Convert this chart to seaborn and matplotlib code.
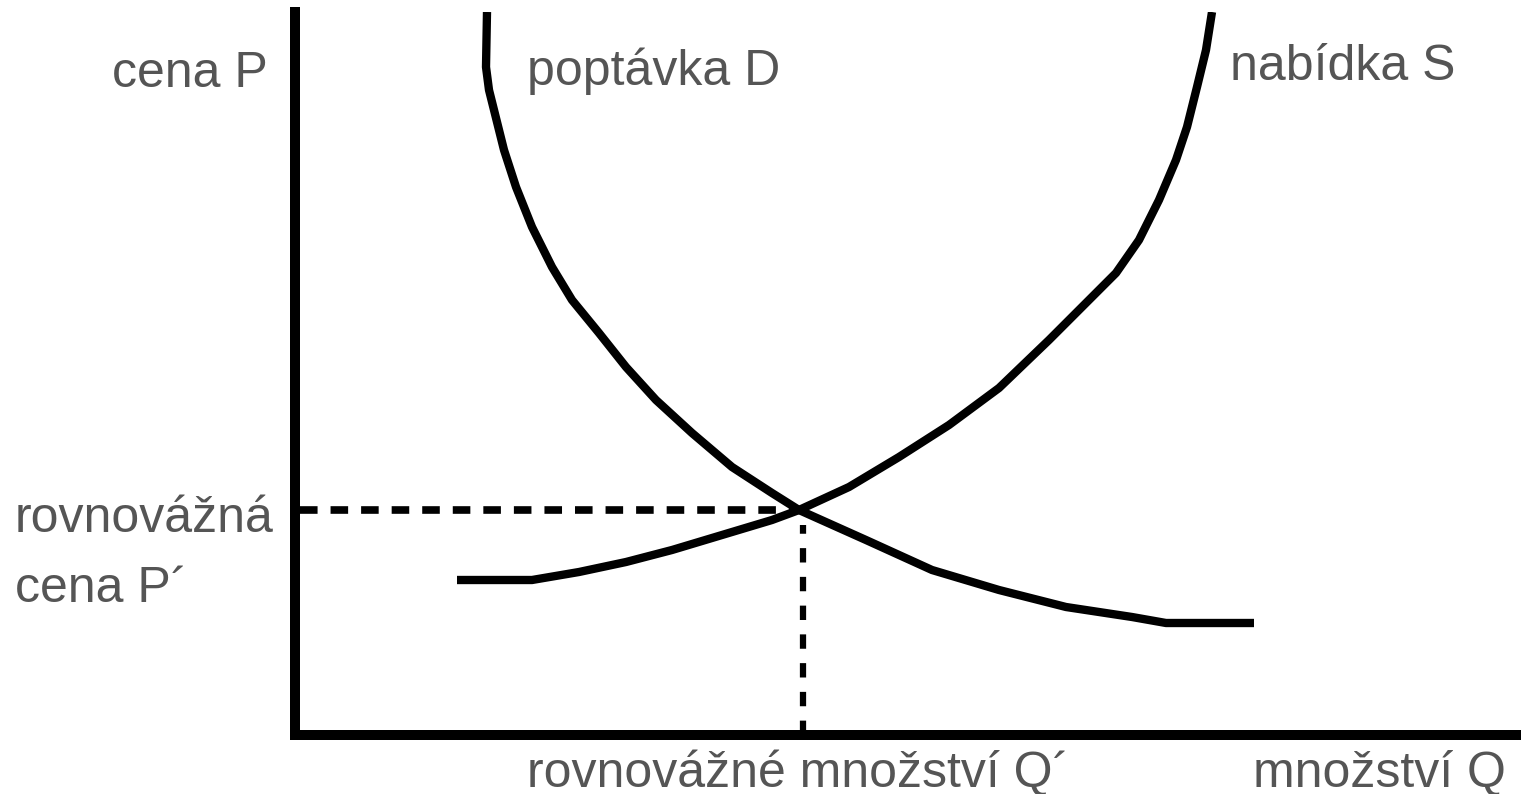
import pandas as pd
import seaborn as sns
import matplotlib.pyplot as plt

# =========================
# Data
# =========================
# demand curve D: quantity Q, price P
demand_q = [19.2, 19.1, 19.4, 19.9, 20.9, 22.1, 23.7, 25.7, 27.7, 30.4, 33.1,
            36.1, 39.7, 43.7, 47.7, 50.4, 57.1, 63.7, 70.4, 77.1, 83.7, 87.1, 95.9]
demand_p = [72.3, 66.8, 64.5, 62.5, 58.5, 54.8, 50.8, 46.8, 43.5, 40.2, 36.8,
            33.5, 30.2, 26.8, 24.2, 22.5, 19.5, 16.5, 14.5, 12.8, 11.8, 11.2, 11.2]

# supply curve S
supply_q = [16.2, 23.7, 28.4, 33.1, 37.7, 42.7, 47.7, 50.4, 55.4, 60.4, 65.4,
            70.4, 75.4, 78.9, 82.1, 84.4, 86.4, 88.1, 89.2, 90.2, 91.1, 91.7]
supply_p = [15.5, 15.5, 16.3, 17.3, 18.5, 20.0, 21.5, 22.5, 24.8, 27.8, 31.0,
            34.7, 39.5, 43.0, 46.2, 49.5, 53.5, 57.5, 60.8, 64.8, 68.5, 72.3]

# equilibrium point
eq_q = 50.8
eq_p = 22.5

q_max = 122.6
p_max = 72.3

demand = pd.DataFrame({"Q": demand_q, "P": demand_p})
supply = pd.DataFrame({"Q": supply_q, "P": supply_p})

# =========================
# Figure
# =========================
sns.set_theme(style="white")
plt.rcParams['font.family'] = ['Liberation Sans', 'DejaVu Sans']

fig = plt.figure(figsize=(15.21, 7.94), dpi=100)
ax = fig.add_axes([295 / 1521, 59 / 794, 1 - 295 / 1521, 723 / 794])

for curve in [demand, supply]:
    sns.lineplot(data=curve, x="Q", y="P", sort=False, estimator=None,
                 color="black", linewidth=6, ax=ax,
                 solid_capstyle="butt", solid_joinstyle="round")

# dashed guides to the equilibrium
ax.hlines(eq_p, 0.5, eq_q - 1.2, color="black", linewidth=5.5,
          linestyles=(0, (2.3, 1.7)))
ax.vlines(eq_q, 0, eq_p - 1.5, color="black", linewidth=4.5,
          linestyles=(0, (2.3, 2.3)))

ax.set_xlim(0, q_max)
ax.set_ylim(0, p_max)
ax.set_xticks([])
ax.set_yticks([])
ax.set_xlabel("")
ax.set_ylabel("")
for side in ["top", "right"]:
    ax.spines[side].set_visible(False)
for side in ["left", "bottom"]:
    ax.spines[side].set_color("black")
    ax.spines[side].set_linewidth(7.2)

# =========================
# Labels
# =========================
txt = dict(fontsize=36, color="#555555", va="baseline")
ax.text(-2.7, 64.8, "cena P", ha="right", **txt)
ax.text(23.2, 65.0, "poptávka D", ha="left", **txt)
ax.text(93.5, 65.5, "nabídka S", ha="left", **txt)
ax.text(-28.0, 20.3, "rovnovážná", ha="left", **txt)
ax.text(-28.0, 13.3, "cena P´", ha="left", **txt)
ax.text(23.2, -5.2, "rovnovážné množství Q´", ha="left", **txt)
ax.text(95.8, -5.2, "množství Q", ha="left", **txt)

plt.savefig("out.png", dpi=100)
